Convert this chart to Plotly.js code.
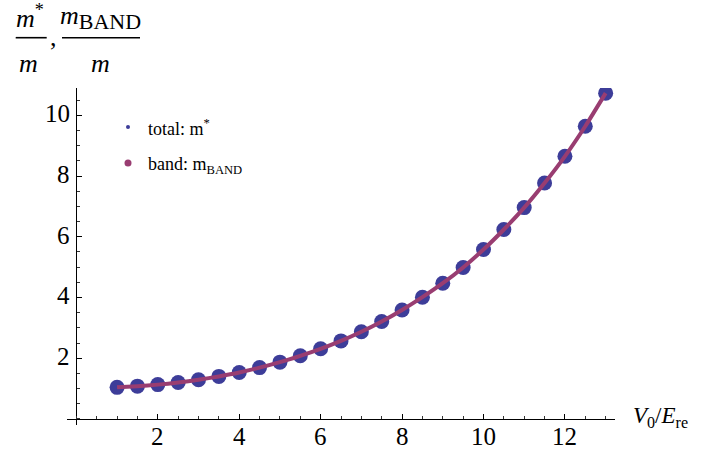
<!DOCTYPE html>
<html><head><meta charset="utf-8">
<script src="https://cdn.plot.ly/plotly-3.0.1.min.js"></script>
<style>html,body{margin:0;padding:0;background:#fff}</style>
</head><body>
<div id="chart" style="width:703px;height:453px"></div>
<script>
// ---- data ----
const ratio = [1, 1.5, 2, 2.5, 3, 3.5, 4, 4.5, 5, 5.5, 6, 6.5, 7, 7.5, 8, 8.5, 9, 9.5, 10, 10.5, 11, 11.5, 12, 12.5, 13];
const totalMass = [1.04, 1.08, 1.13, 1.20, 1.29, 1.40, 1.53, 1.69, 1.87, 2.08, 2.31, 2.57, 2.87, 3.21, 3.59, 4.01, 4.47, 4.99, 5.58, 6.24, 6.96, 7.77, 8.65, 9.64, 10.73];
const bandMass  = [1.04, 1.08, 1.13, 1.20, 1.29, 1.40, 1.53, 1.69, 1.87, 2.08, 2.31, 2.57, 2.87, 3.21, 3.59, 4.01, 4.47, 4.99, 5.58, 6.24, 6.96, 7.77, 8.65, 9.64, 10.73];
const xTickVals = [2, 4, 6, 8, 10, 12];
const yTickVals = [2, 4, 6, 8, 10];
const totalLabel = "total: m<sup>*</sup>";
const bandLabel = "band: m<sub>BAND</sub>";

// ---- styling ----
const BLUE = "rgb(61,61,153)";
const PURPLE = "rgb(153,61,113)";
const FONT = '"Liberation Serif", "Times New Roman", "DejaVu Serif", serif';
const W = 703, H = 453, L = 67, R = 88, T = 88, B = 28;
const PW = W - L - R, PH = H - T - B;
const fx = p => (p - L) / PW;
const fy = p => (H - B - p) / PH;
const xr = [-0.23, 13.23], yr = [-0.2, 10.9];
const serifSpan = s => "<span style=\"font-family:'Liberation Serif',serif\">" + s + "</span>";

const traces = [
  {x: ratio, y: totalMass, type: "scatter", mode: "markers", name: "total",
   marker: {color: BLUE, size: 15}, showlegend: false, hoverinfo: "skip"},
  {x: ratio, y: bandMass, type: "scatter", mode: "lines", name: "band",
   line: {color: PURPLE, width: 4, shape: "spline", smoothing: 0.6}, showlegend: false, hoverinfo: "skip"}
];

const ann = (text, px, py, size, xanchor) => ({
  text, x: fx(px), y: fy(py), xref: "paper", yref: "paper", showarrow: false,
  xanchor: xanchor || "center", yanchor: "middle", font: {family: FONT, size: size || 26, color: "#000"}
});

// tick labels as text placed on the axis scales
const xTickAnns = xTickVals.map(v => ({
  text: serifSpan(String(v)), x: v, xref: "x", y: fy(437), yref: "paper", showarrow: false,
  xanchor: "center", yanchor: "middle", font: {family: FONT, size: 25, color: "#000"}
}));
const yTickAnns = yTickVals.map(v => ({
  text: serifSpan(String(v)), x: fx(72), xref: "paper", y: v, yref: "y", yshift: 1.5, showarrow: false,
  xanchor: "right", yanchor: "middle", font: {family: FONT, size: 25, color: "#000"}
}));

const layout = {
  width: W, height: H,
  margin: {l: L, r: R, t: T, b: B, pad: 0},
  paper_bgcolor: "#fff", plot_bgcolor: "#fff",
  showlegend: false,
  font: {family: FONT, color: "#000"},
  xaxis: {
    range: xr, anchor: "free", position: (0 - yr[0]) / (yr[1] - yr[0]),
    showline: true, linecolor: "#000", linewidth: 1, showgrid: false, zeroline: false,
    tickmode: "array", tickvals: xTickVals, ticks: "inside", ticklen: 5, tickcolor: "#000", tickwidth: 1,
    showticklabels: false,
    minor: {tickmode: "linear", tick0: 0, dtick: 0.5, ticks: "inside", ticklen: 3, tickcolor: "#333", showgrid: false}
  },
  yaxis: {
    range: yr, anchor: "free", position: (0 - xr[0]) / (xr[1] - xr[0]),
    showline: true, linecolor: "#000", linewidth: 1, showgrid: false, zeroline: false,
    tickmode: "array", tickvals: yTickVals, ticks: "inside", ticklen: 5, tickcolor: "#000", tickwidth: 1,
    showticklabels: false,
    minor: {tickmode: "linear", tick0: 0, dtick: 0.5, ticks: "inside", ticklen: 3, tickcolor: "#333", showgrid: false}
  },
  shapes: [
    {type: "line", xref: "paper", yref: "paper", x0: fx(15.7), x1: fx(46.7), y0: fy(37.7), y1: fy(37.7), line: {color: "#000", width: 1.6}},
    {type: "line", xref: "paper", yref: "paper", x0: fx(62), x1: fx(140), y0: fy(37.7), y1: fy(37.7), line: {color: "#000", width: 1.6}},
    {type: "circle", xref: "paper", yref: "paper", x0: fx(126), x1: fx(130), y0: fy(125), y1: fy(129), fillcolor: BLUE, line: {width: 0}},
    {type: "circle", xref: "paper", yref: "paper", x0: fx(124.5), x1: fx(131.5), y0: fy(159.5), y1: fy(166.5), fillcolor: PURPLE, line: {width: 0}}
  ],
  annotations: [
    ann("<i>m</i><sup>*</sup>", 30, 17, 26),
    ann(serifSpan(","), 53, 38, 26),
    ann("<i>m</i><sub><span style='font-size:22px'>BAND</span></sub>", 100, 18, 26),
    ann("<i>m</i>", 28.5, 63, 26),
    ann("<i>m</i>", 100, 63, 26),
    ann(totalLabel, 146, 127, 18, "left"),
    ann(bandLabel, 146, 165, 18, "left"),
    ann("<i>V</i><sub>0</sub>/<i>E</i><sub>re</sub>", 631, 417, 23, "left")
  ].concat(xTickAnns, yTickAnns)
};

Plotly.newPlot("chart", traces, layout, {displayModeBar: false, staticPlot: true});
</script>
</body></html>
